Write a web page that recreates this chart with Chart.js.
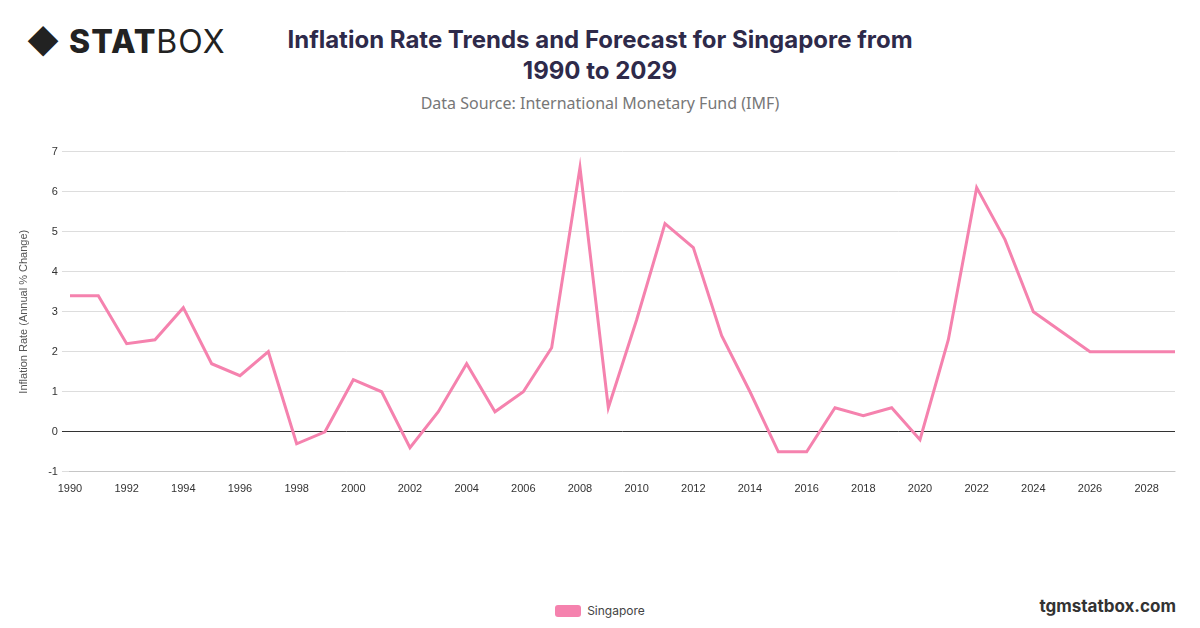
<!DOCTYPE html>
<html>
<head>
<meta charset="utf-8">
<script src="https://cdn.jsdelivr.net/npm/chart.js@4/dist/chart.umd.min.js"></script>
<style>
  body { margin: 0; width: 1200px; height: 628px; background: #fff; font-family: Inter, "Noto Sans", sans-serif; position: relative; overflow: hidden; }
  #logo { position: absolute; left: 26px; top: 22px; font: 800 32px Inter, sans-serif; color: #222; letter-spacing: 1px; }
  #logo span { font-weight: 400; }
  #title { position: absolute; left: 240px; width: 720px; top: 24px; text-align: center; font: 700 24px Inter, sans-serif; color: #2e2a4a; line-height: 31px; }
  #sub { position: absolute; left: 0; width: 1200px; top: 92px; text-align: center; font: 400 16px "Noto Sans", sans-serif; color: #777; }
  #site { position: absolute; right: 24px; top: 596px; font: 700 17px Inter, sans-serif; color: #333; }
  #wrap { position: absolute; left: 13px; top: 141px; width: 1165px; height: 358px; }
  #legend { position: absolute; left: 0; width: 1200px; top: 603px; text-align: center; font: 12px Inter, sans-serif; color: #444; }
  #legend i { display: inline-block; width: 26px; height: 12px; background: #f582ae; border-radius: 3px; vertical-align: -2px; margin-right: 6px; }
</style>
</head>
<body>
<div id="logo">◆ STAT<span>BOX</span></div>
<div id="title">Inflation Rate Trends and Forecast for Singapore from<br>1990 to 2029</div>
<div id="sub">Data Source: International Monetary Fund (IMF)</div>
<div id="site">tgmstatbox.com</div>
<div id="wrap"><canvas id="myChart"></canvas></div>
<div id="legend"><i></i>Singapore</div>
<script>
// years on the x-axis
let years = [1990, 1991, 1992, 1993, 1994, 1995, 1996, 1997, 1998, 1999, 2000, 2001, 2002, 2003, 2004, 2005, 2006, 2007, 2008, 2009,
    2010, 2011, 2012, 2013, 2014, 2015, 2016, 2017, 2018, 2019, 2020, 2021, 2022, 2023, 2024, 2025, 2026, 2027, 2028, 2029];
// inflation, annual % change
let singapore = [3.4, 3.4, 2.2, 2.3, 3.1, 1.7, 1.4, 2.0, -0.3, 0.0, 1.3, 1.0, -0.4, 0.5, 1.7, 0.5, 1.0, 2.1, 6.6, 0.6,
    2.8, 5.2, 4.6, 2.4, 1.0, -0.5, -0.5, 0.6, 0.4, 0.6, -0.2, 2.3, 6.1, 4.8, 3.0, 2.5, 2.0, 2.0, 2.0, 2.0];

let ctx = document.getElementById("myChart");
let myChart = new Chart(ctx, {
    type: 'line',
    data: {
        labels: years,
        datasets: [{
            label: 'Singapore',
            data: singapore,
            borderColor: '#f582ae',
            backgroundColor: '#f582ae',
            borderWidth: 3,
            pointRadius: 0,
            tension: 0
        }]
    },
    options: {
        responsive: true,
        maintainAspectRatio: false,
        animation: false,
        plugins: { legend: { display: false } },
        scales: {
            x: {
                offset: false,
                grid: { display: false },
                ticks: {
                    autoSkip: false, maxRotation: 0, color: '#333', font: { size: 11 },
                    callback: function (v, i) { return years[i] % 2 === 0 ? years[i] : ''; }
                }
            },
            y: {
                min: -1, max: 7,
                ticks: { stepSize: 1, color: '#333', font: { size: 11 }, padding: 4 },
                grid: {
                    color: function (c) { return c.tick.value === 0 ? '#333' : '#ddd'; }
                },
                border: { display: false },
                title: { display: true, text: 'Inflation Rate (Annual % Change)', color: '#555', font: { size: 11 }, padding: { bottom: 14 } }
            }
        }
    }
});
</script>
</body>
</html>
